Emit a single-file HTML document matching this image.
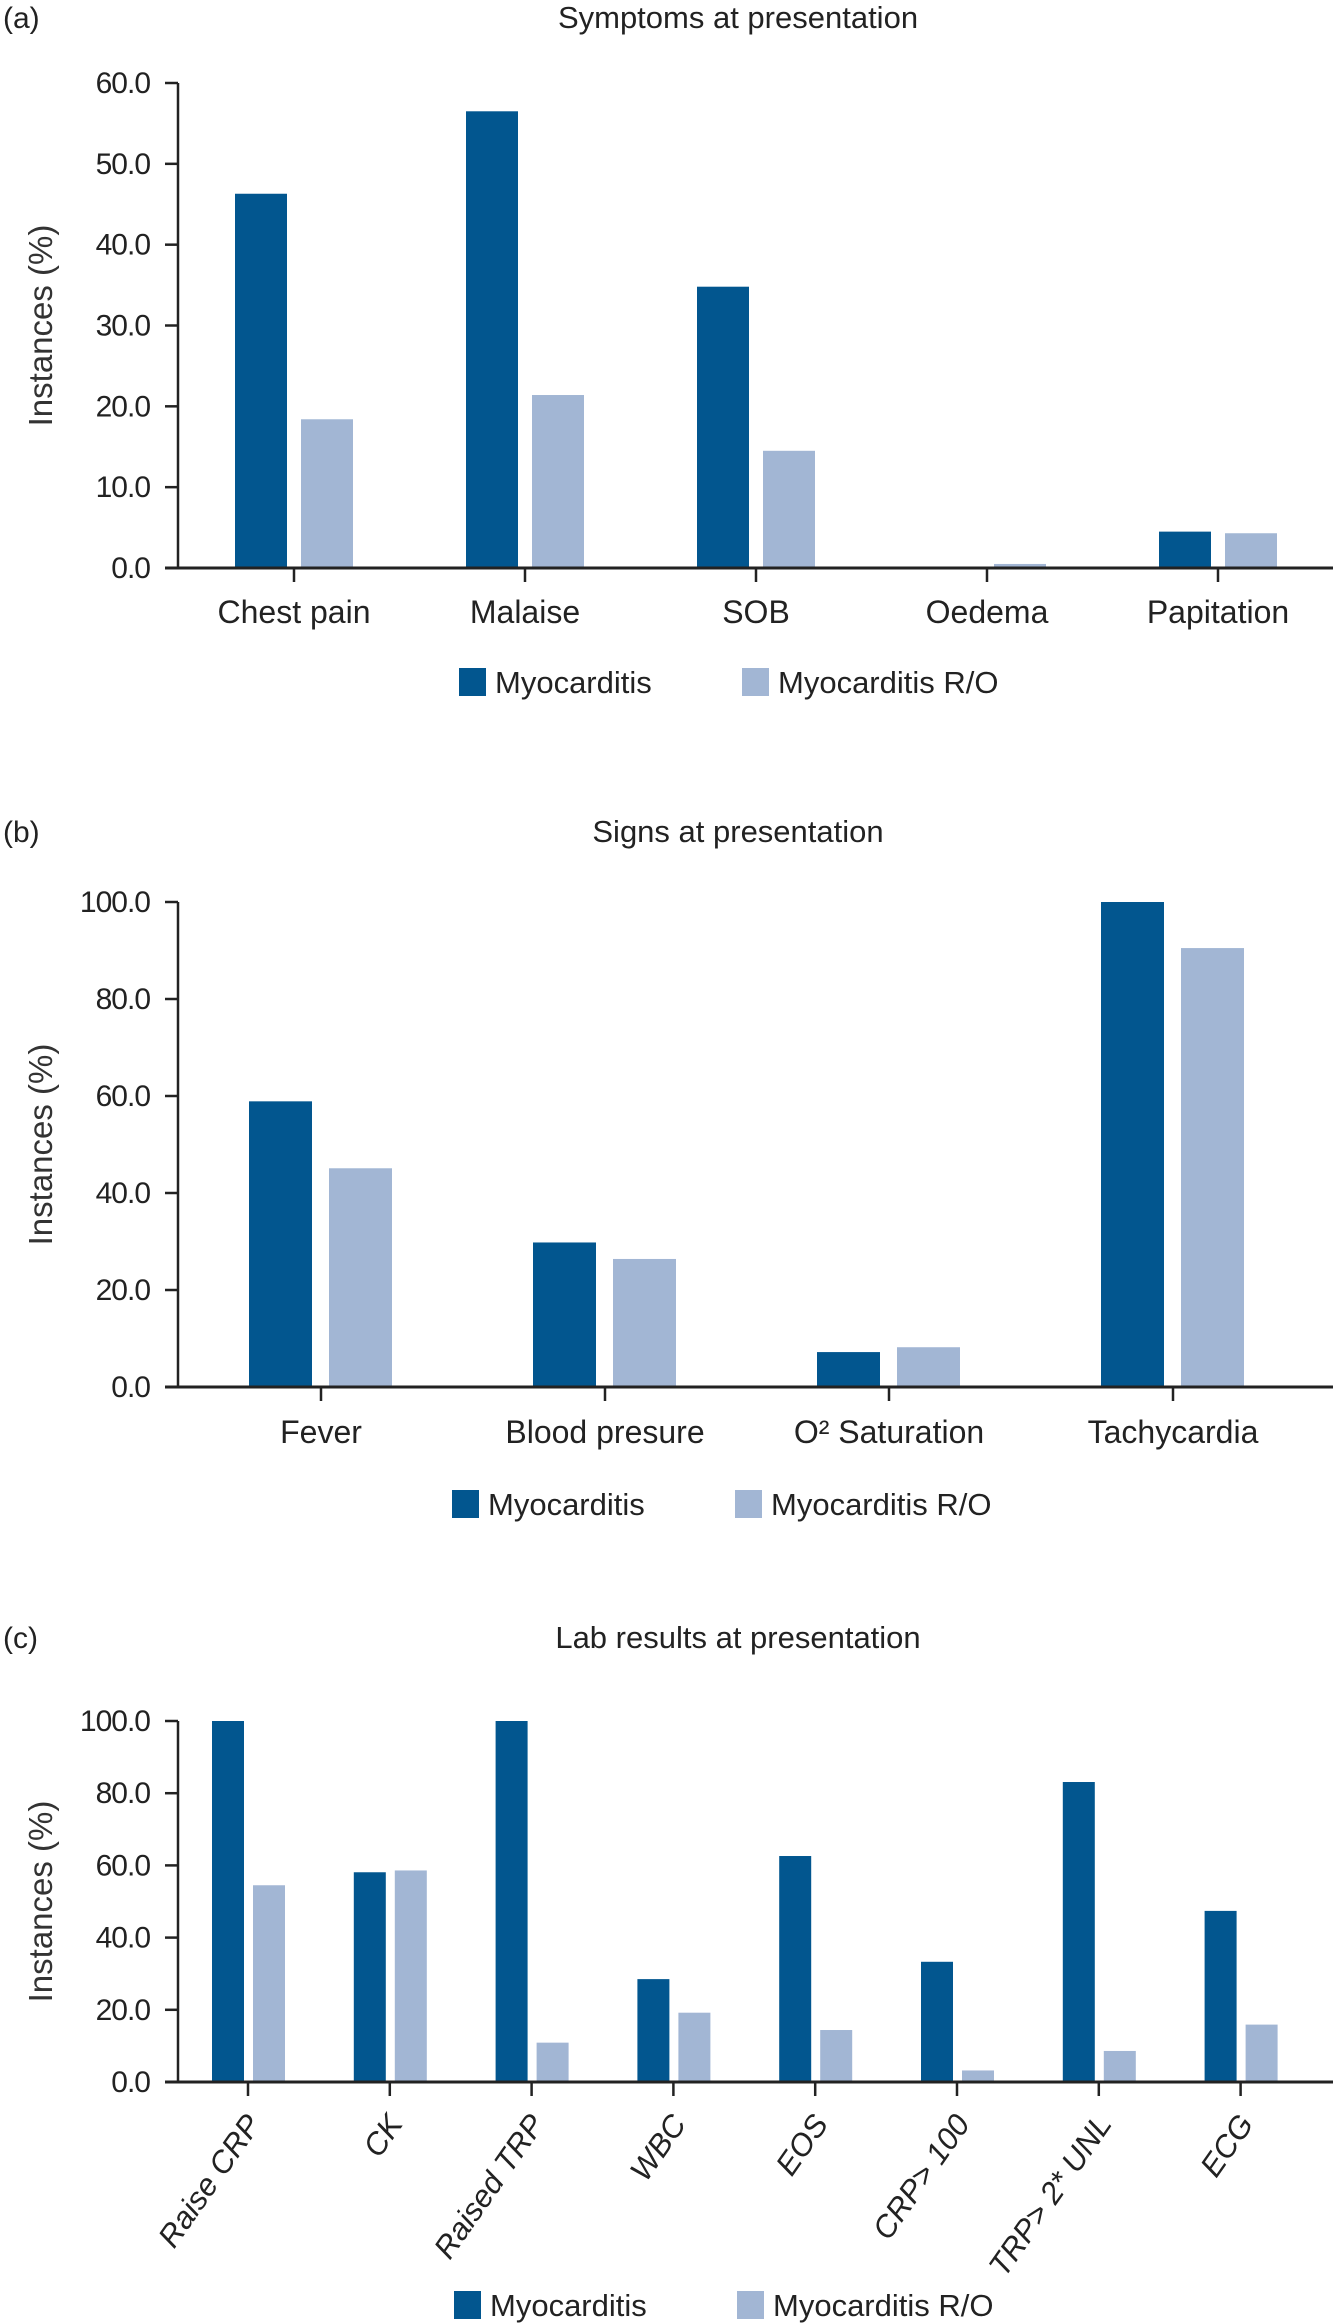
<!DOCTYPE html>
<html><head><meta charset="utf-8"><style>
html,body{margin:0;padding:0;background:#fff;}
svg{display:block;font-family:"Liberation Sans",sans-serif;}
</style></head><body>
<svg id="fig" width="1333" height="2324" viewBox="0 0 1333 2324" xmlns="http://www.w3.org/2000/svg"></svg>
<script>
const DARK = '#02568f', LIGHT = '#a2b6d4';
// Chart (a)
const catsA = ['Chest pain','Malaise','SOB','Oedema','Papitation'];
const myoA = [46.3, 56.5, 34.8, 0, 4.5];
const roA = [18.4, 21.4, 14.5, 0.5, 4.3];
const ticksA = ['0.0','10.0','20.0','30.0','40.0','50.0','60.0'];
// Chart (b)
const catsB = ['Fever','Blood presure','O² Saturation','Tachycardia'];
const myoB = [58.9, 29.8, 7.2, 100];
const roB = [45.1, 26.4, 8.2, 90.5];
const ticksB = ['0.0','20.0','40.0','60.0','80.0','100.0'];
// Chart (c)
const catsC = ['Raise CRP','CK','Raised TRP','WBC','EOS','CRP> 100','TRP> 2* UNL','ECG'];
const myoC = [100, 58.1, 100, 28.5, 62.6, 33.3, 83.1, 47.4];
const roC = [54.5, 58.6, 10.9, 19.2, 14.4, 3.2, 8.6, 15.9];
const ticksC = ['0.0','20.0','40.0','60.0','80.0','100.0'];

const NS = 'http://www.w3.org/2000/svg';
const svg = document.getElementById('fig');
function mk(tag, attrs, parent, text){
  const e = document.createElementNS(NS, tag);
  for (const k in attrs) e.setAttribute(k, attrs[k]);
  if (text !== undefined) e.textContent = text;
  (parent || svg).appendChild(e);
  return e;
}

function chart(cfg){
  const g = mk('g', {});
  
  
  const yMax = parseFloat(cfg.ticks[cfg.ticks.length-1]);
  const y = v => cfg.y0 - (v / yMax) * (cfg.y0 - cfg.yTop);
  const x = i => cfg.x0 + i * cfg.step;
  const pl = mk('text', {x:3, y:cfg.titleY, 'font-size':30, fill:'#222'}, g, cfg.letter);
  
  
  const t = mk('text', {x:738, y:cfg.titleY, 'font-size':31, fill:'#222', 'text-anchor':'middle'}, g, cfg.title);
  
  
  const cy = (cfg.y0 + cfg.yTop) / 2;
  const yt = mk('text', {x:0, y:0, 'font-size':33, fill:'#333', 'text-anchor':'middle', transform:`translate(52,${cy}) rotate(-90)`}, g, 'Instances (%)');
  
  
  cfg.ticks.forEach(tl => {
    const v = parseFloat(tl);
    const yy = y(v);
    const tk = mk('line', {x1:165, x2:178, y1:yy, y2:yy, stroke:'#222', 'stroke-width':2.5}, g);
    
    
    const lb = mk('text', {x:150, y:yy + 10, 'font-size':30, fill:'#222', 'text-anchor':'end', 'letter-spacing':'-1'}, g, tl);
    
    
  });
  cfg.cats.forEach((c, i) => {
    const cx = x(i);
    const b1 = mk('rect', {x:cx - cfg.gapL - cfg.bw, y:y(cfg.myo[i]), width:cfg.bw, height:cfg.y0 - y(cfg.myo[i]), fill:DARK}, g);
    
    
    const b2 = mk('rect', {x:cx + cfg.gapR, y:y(cfg.ro[i]), width:cfg.bw, height:cfg.y0 - y(cfg.ro[i]), fill:LIGHT}, g);
    
    
    const tk = mk('line', {x1:cx, x2:cx, y1:cfg.y0, y2:cfg.y0 + 14, stroke:'#222', 'stroke-width':2.5}, g);
    
    
    let lb;
    if (cfg.rotate) {
      lb = mk('text', {x:0, y:0, 'font-size':31, fill:'#222', 'text-anchor':'end', 'font-style':'italic', transform:`translate(${cx + 14},${cfg.y0 + 42}) rotate(-55)`}, g, c);
    } else {
      lb = mk('text', {x:cx, y:cfg.labelY, 'font-size':32, fill:'#222', 'text-anchor':'middle'}, g, c);
    }
    
    
  });
  const ya = mk('line', {x1:178, x2:178, y1:cfg.yTop, y2:cfg.y0 + 1, stroke:'#222', 'stroke-width':2.5}, g);
  
  
  const xa = mk('line', {x1:165, x2:1333, y1:cfg.y0, y2:cfg.y0, stroke:'#222', 'stroke-width':3}, g);
  
  
  const lg = mk('g', {}, g);
  
  
  const ly = cfg.legY;
  const s1 = mk('rect', {x:cfg.legX, y:ly, width:27, height:28, fill:DARK}, lg);
  
  
  const l1 = mk('text', {x:cfg.legX + 36, y:ly + 25, 'font-size':31, fill:'#222'}, lg, 'Myocarditis');
  
  
  const s2 = mk('rect', {x:cfg.legX + 283, y:ly, width:27, height:28, fill:LIGHT}, lg);
  
  
  const l2 = mk('text', {x:cfg.legX + 319, y:ly + 25, 'font-size':31, fill:'#222'}, lg, 'Myocarditis R/O');
  
  
}

chart({name:'chart-symptoms', letter:'(a)', title:'Symptoms at presentation', titleY:28,
  cats:catsA, myo:myoA, ro:roA, ticks:ticksA, y0:568, yTop:83, x0:294, step:231,
  bw:52, gapL:7, gapR:7, labelY:623, legX:459, legY:668});
chart({name:'chart-signs', letter:'(b)', title:'Signs at presentation', titleY:842,
  cats:catsB, myo:myoB, ro:roB, ticks:ticksB, y0:1387, yTop:902, x0:321, step:284,
  bw:63, gapL:9, gapR:8, labelY:1443, legX:452, legY:1490});
chart({name:'chart-lab-results', letter:'(c)', title:'Lab results at presentation', titleY:1648,
  cats:catsC, myo:myoC, ro:roC, ticks:ticksC, y0:2082, yTop:1721, x0:248, step:141.8,
  bw:32, gapL:4, gapR:5, rotate:true, legX:454, legY:2291});
</script>
</body></html>
